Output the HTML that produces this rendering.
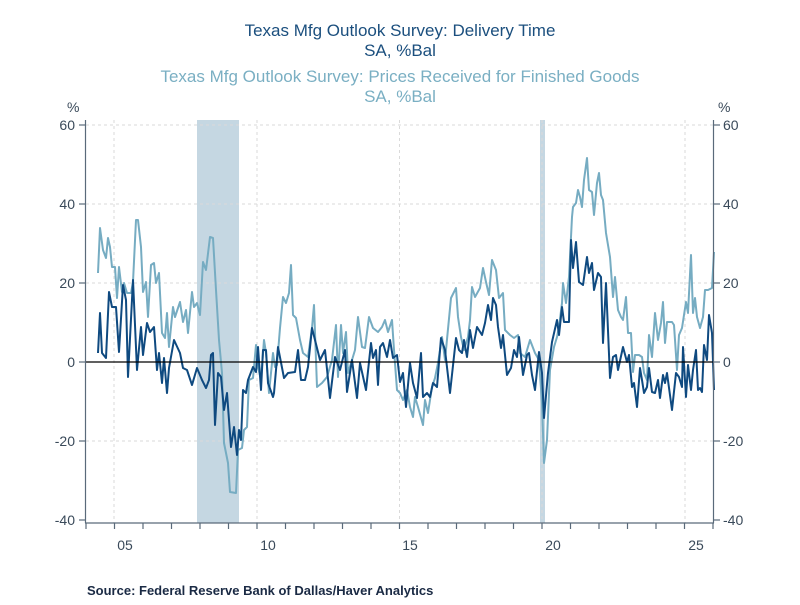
<!DOCTYPE html>
<html><head><meta charset="utf-8"><style>
html,body{margin:0;padding:0;background:#fff;}
svg text{font-family:"Liberation Sans",sans-serif;}
</style></head><body>
<svg width="800" height="600" viewBox="0 0 800 600" xmlns="http://www.w3.org/2000/svg">
<rect width="800" height="600" fill="#fff"/>
<g text-anchor="middle" font-size="17">
<text x="400" y="36" fill="#1b4f7e">Texas Mfg Outlook Survey: Delivery Time</text>
<text x="400" y="56" fill="#1b4f7e">SA, %Bal</text>
<text x="400" y="82" fill="#7aafc3">Texas Mfg Outlook Survey: Prices Received for Finished Goods</text>
<text x="400" y="102" fill="#7aafc3">SA, %Bal</text>
</g>
<rect x="197" y="120" width="42" height="403" fill="#c5d7e2"/>
<rect x="540" y="120" width="5" height="403" fill="#c5d7e2"/>
<g stroke="#dadada" stroke-width="1" stroke-dasharray="3,3" fill="none">
<line x1="86" y1="125" x2="713" y2="125"/><line x1="86" y1="204" x2="713" y2="204"/>
<line x1="86" y1="283" x2="713" y2="283"/><line x1="86" y1="441" x2="713" y2="441"/>
<line x1="114" y1="120" x2="114" y2="523"/><line x1="257" y1="120" x2="257" y2="523"/>
<line x1="399.5" y1="120" x2="399.5" y2="523"/><line x1="542" y1="120" x2="542" y2="523"/>
<line x1="685" y1="120" x2="685" y2="523"/>
</g>
<polyline fill="none" stroke="#76acc2" stroke-width="2" stroke-linejoin="round" points="98,273 100,228 103,250 106,258 108,238 110,247 112,267 115,267 117,298 119,267 122,292 124,283 127,293 131,293 133,282 136,220 138,220 141,247 143,292 146,282 148,317 151,265 154,263 156,283 159,273 162,333 165,338 167,313 169,347 173,307 175,317 180,302 183,322 186,310 188,333 192,292 194,307 197,303 200,315 203,262 206,270 210,237 213,238 216,290 219,340 222,373 224,443 228,463 230,492 236,493 238,450 242,448 244,430 247,427 249,380 253,378 256,345 258,367 261,380 264,340 266,353 269,393 273,353 275,367 277,365 280,328 283,297 286,303 289,293 291,265 293,315 296,318 300,340 303,353 308,357 312,328 314,305 317,387 322,383 327,377 332,360 336,325 338,377 341,325 343,353 346,332 348,373 352,360 355,350 358,317 362,347 365,348 369,317 373,328 378,332 382,327 385,320 388,332 392,320 394,350 397,390 400,393 403,400 407,390 410,407 413,417 415,397 418,407 423,425 425,400 428,413 432,387 435,378 438,363 442,337 445,360 451,298 456,288 458,317 461,337 464,350 468,337 470,320 472,287 475,297 480,288 483,268 486,282 489,295 492,260 496,270 499,298 503,293 505,330 510,335 514,338 518,335 520,353 525,357 530,340 535,353 539,360 542,403 544,463 547,440 550,370 554,347 557,337 559,327 562,303 563,283 566,303 569,277 572,217 573,207 576,203 578,190 580,197 582,207 584,180 587,158 589,190 592,192 594,215 597,183 599,173 601,195 603,200 606,233 610,257 613,297 615,277 618,310 621,317 623,320 626,297 628,333 631,333 633,372 635,355 639,355 642,357 644,373 647,380 649,335 652,357 655,313 658,340 661,323 663,302 665,343 667,322 672,322 674,325 677,370 679,335 682,328 686,302 688,313 691,255 693,313 695,298 697,317 700,328 703,317 705,290 708,290 712,288 714,252"/>
<polyline fill="none" stroke="#0f4a80" stroke-width="2" stroke-linejoin="round" points="98,353 100,313 102,353 106,358 109,292 112,307 116,307 119,352 123,285 126,300 128,377 133,280 137,370 141,327 143,355 147,323 150,332 154,327 157,370 159,353 162,383 164,358 167,393 169,368 174,340 180,353 183,368 187,370 192,385 197,368 202,380 206,388 209,380 211,355 213,353 215,425 218,373 221,377 224,410 227,393 231,447 234,427 237,455 239,430 241,440 243,390 246,393 248,380 253,367 256,372 258,347 261,390 263,350 266,350 268,383 273,397 274,393 278,347 284,378 288,373 295,372 298,350 301,380 305,380 308,367 312,328 315,340 320,360 325,350 330,398 335,357 340,370 345,350 347,392 352,360 357,398 360,363 366,390 371,343 373,358 376,350 378,385 380,347 383,343 387,357 390,340 393,358 397,355 400,382 403,373 406,407 410,363 413,383 417,398 421,353 423,397 427,393 430,397 433,383 437,387 441,338 445,350 450,393 456,338 459,350 462,353 464,340 467,357 470,330 473,348 477,327 482,335 485,323 488,305 491,320 493,298 496,305 498,327 501,348 503,335 507,375 511,368 514,350 517,357 519,337 523,375 527,355 529,353 532,375 535,390 539,352 542,373 544,418 548,373 552,342 557,320 559,335 562,307 564,322 569,322 571,240 573,268 576,242 579,282 583,285 587,257 589,273 592,263 594,290 598,273 601,277 603,343 606,283 610,378 613,357 616,355 618,370 623,347 627,362 629,355 632,387 634,383 637,407 640,368 642,380 644,393 647,387 649,368 652,392 655,393 658,380 660,398 663,375 665,383 667,373 672,410 676,373 679,377 682,387 683,347 686,397 688,365 691,390 693,370 696,350 698,390 700,388 702,392 704,345 707,360 709,315 712,333 714,390"/>
<line x1="86" y1="362" x2="713" y2="362" stroke="#000" stroke-width="1.2"/>
<g stroke="#5a6a7a" stroke-width="1.2" fill="none">
<line x1="85.5" y1="120" x2="85.5" y2="523"/><line x1="713.5" y1="120" x2="713.5" y2="523"/>
<line x1="85" y1="523" x2="714" y2="523"/>
<line x1="79" y1="125" x2="85" y2="125"/><line x1="79" y1="204" x2="85" y2="204"/><line x1="79" y1="283" x2="85" y2="283"/><line x1="79" y1="362" x2="85" y2="362"/><line x1="79" y1="441" x2="85" y2="441"/><line x1="79" y1="520" x2="85" y2="520"/>
<line x1="714" y1="125" x2="720" y2="125"/><line x1="714" y1="204" x2="720" y2="204"/><line x1="714" y1="283" x2="720" y2="283"/><line x1="714" y1="362" x2="720" y2="362"/><line x1="714" y1="441" x2="720" y2="441"/><line x1="714" y1="520" x2="720" y2="520"/>
<path d="M86,523v6M114.5,523v6M143,523v6M171.5,523v6M200,523v6M228.5,523v6M257,523v6M285.5,523v6M314,523v6M342.5,523v6M371,523v6M399.5,523v6M428,523v6M456.5,523v6M485,523v6M513.5,523v6M542,523v6M570.5,523v6M599,523v6M627.5,523v6M656,523v6M684.5,523v6M713,523v6"/>
</g>
<g font-size="14" fill="#3a4a5a">
<text x="75" y="130" text-anchor="end">60</text><text x="75" y="209" text-anchor="end">40</text><text x="75" y="288" text-anchor="end">20</text><text x="75" y="367" text-anchor="end">0</text><text x="75" y="446" text-anchor="end">-20</text><text x="75" y="525" text-anchor="end">-40</text>
<text x="723" y="130">60</text><text x="723" y="209">40</text><text x="723" y="288">20</text><text x="723" y="367">0</text><text x="723" y="446">-20</text><text x="723" y="525">-40</text>
<text x="67" y="112">%</text><text x="718" y="112">%</text>
<g text-anchor="middle"><text x="125" y="550">05</text><text x="268" y="550">10</text><text x="410" y="550">15</text><text x="553" y="550">20</text><text x="696" y="550">25</text></g>
</g>
<text x="87" y="595" font-size="13" font-weight="bold" fill="#1a2a44">Source:  Federal Reserve Bank of Dallas/Haver Analytics</text>
</svg>
</body></html>
